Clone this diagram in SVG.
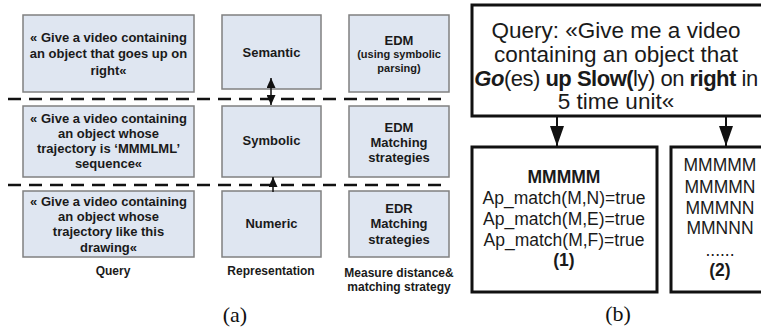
<svg xmlns="http://www.w3.org/2000/svg" width="761" height="331" viewBox="0 0 761 331">
<defs>
<style>
.ab{fill:#dfe6f1;stroke:#808080;stroke-width:1.5}
.bb{fill:#fff;stroke:#111;stroke-width:3}
.t{font-family:"Liberation Sans",Arial,sans-serif;font-weight:bold;fill:#1a1a1a;text-anchor:middle}
.s13{font-size:13px}
.s11{font-size:11px}
.s12{font-size:12px}
.bt{font-family:"Liberation Sans",Arial,sans-serif;fill:#1a1a1a;text-anchor:middle;font-size:22.5px}
.ct{font-family:"Liberation Sans",Arial,sans-serif;fill:#1a1a1a;text-anchor:middle;font-size:17.5px}
.cap{font-family:"Liberation Serif","Times New Roman",serif;font-size:22px;fill:#111;text-anchor:middle}
.dash{stroke:#111;stroke-width:2.5;stroke-dasharray:13 8;fill:none}
</style>
<marker id="ah" viewBox="0 0 10 10" refX="10" refY="5" markerWidth="10" markerHeight="9" markerUnits="userSpaceOnUse" orient="auto-start-reverse" preserveAspectRatio="none"><path d="M0,0 L10,5 L0,10 z" fill="#111"/></marker>
<marker id="ahb" viewBox="0 0 10 10" refX="10" refY="5" markerWidth="20" markerHeight="14" markerUnits="userSpaceOnUse" orient="auto" preserveAspectRatio="none"><path d="M0,0 L10,5 L0,10 z" fill="#111"/></marker>
</defs>

<g id="q1"><rect class="ab" x="23" y="15" width="171" height="77"/>
<text class="t s13" x="108.5" y="42">« Give a video containing</text>
<text class="t s13" x="108.5" y="58">an object that goes up on</text>
<text class="t s13" x="108.5" y="75">right«</text></g>
<g id="q2"><rect class="ab" x="23" y="106" width="171" height="71"/>
<text class="t s13" x="108.5" y="123">« Give a video containing</text>
<text class="t s13" x="108.5" y="138">an object whose</text>
<text class="t s13" x="108.5" y="153">trajectory is ‘MMMLML’</text>
<text class="t s13" x="108.5" y="168">sequence«</text></g>
<g id="q3"><rect class="ab" x="23" y="191" width="171" height="66"/>
<text class="t s13" x="108.5" y="206">« Give a video containing</text>
<text class="t s13" x="108.5" y="221">an object whose</text>
<text class="t s13" x="108.5" y="236">trajectory like this</text>
<text class="t s13" x="108.5" y="252">drawing«</text></g>

<g id="r1"><rect class="ab" x="222" y="15" width="99" height="74"/>
<text class="t s13" x="271.5" y="57">Semantic</text></g>
<g id="r2"><rect class="ab" x="222" y="106" width="99" height="71"/>
<text class="t s13" x="271.5" y="145">Symbolic</text></g>
<g id="r3"><rect class="ab" x="222" y="191" width="99" height="66"/>
<text class="t s13" x="271.5" y="228">Numeric</text></g>

<g id="m1"><rect class="ab" x="349" y="15" width="100" height="77"/>
<text class="t s13" x="399" y="45">EDM</text>
<text class="t s11" x="399" y="58">(using symbolic</text>
<text class="t s11" x="399" y="72">parsing)</text></g>
<g id="m2"><rect class="ab" x="349" y="106" width="100" height="71"/>
<text class="t s13" x="399" y="132">EDM</text>
<text class="t s13" x="399" y="147">Matching</text>
<text class="t s13" x="399" y="162">strategies</text></g>
<g id="m3"><rect class="ab" x="349" y="191" width="100" height="66"/>
<text class="t s13" x="399" y="213">EDR</text>
<text class="t s13" x="399" y="228">Matching</text>
<text class="t s13" x="399" y="244">strategies</text></g>

<g id="labels-a">
<text class="t s12" x="113" y="275">Query</text>
<text class="t s12" x="271" y="275">Representation</text>
<text class="t s12" x="399" y="277">Measure distance&amp;</text>
<text class="t s12" x="399" y="291">matching strategy</text>
<text class="cap" x="235" y="322">(a)</text>
</g>

<g id="dividers">
<line class="dash" x1="8" y1="99" x2="444" y2="99"/>
<line class="dash" x1="8" y1="185" x2="444" y2="185"/>
</g>

<g id="b-top"><rect class="bb" x="472" y="5" width="295" height="111"/>
<text class="bt" x="616" y="38">Query: «Give me a video</text>
<text class="bt" x="616" y="62">containing an object that</text>
<text class="bt" x="616" y="86" style="font-size:22px;letter-spacing:-0.5px"><tspan font-weight="bold" font-style="italic">Go</tspan>(es) <tspan font-weight="bold">up Slow(</tspan>ly) on <tspan font-weight="bold">right</tspan> in</text>
<text class="bt" x="616" y="109">5 time unit«</text></g>

<g id="b-1"><rect class="bb" x="472" y="147" width="185" height="145"/>
<text class="ct" x="564" y="183" font-weight="bold">MMMMM</text>
<text class="ct" x="564" y="204">Ap_match(M,N)=true</text>
<text class="ct" x="564" y="225">Ap_match(M,E)=true</text>
<text class="ct" x="564" y="246">Ap_match(M,F)=true</text>
<text class="ct" x="564" y="266" font-weight="bold">(1)</text></g>

<g id="b-2"><rect class="bb" x="671" y="147" width="96" height="145"/>
<text class="ct" x="720" y="171">MMMMM</text>
<text class="ct" x="720" y="193">MMMMN</text>
<text class="ct" x="720" y="214">MMMNN</text>
<text class="ct" x="720" y="234">MMNNN</text>
<text class="ct" x="720" y="256">......</text>
<text class="ct" x="720" y="276" font-weight="bold">(2)</text></g>

<text class="cap" x="618" y="321">(b)</text>

<g id="connectors">
<line x1="271" y1="78" x2="271" y2="105" stroke="#111" stroke-width="1.5" marker-start="url(#ah)" marker-end="url(#ah)"/>
<line x1="273" y1="192" x2="273" y2="177" stroke="#111" stroke-width="1.5" marker-end="url(#ah)"/>
<line x1="557" y1="117" x2="557" y2="146" stroke="#111" stroke-width="2" marker-end="url(#ahb)"/>
<line x1="726" y1="117" x2="726" y2="146" stroke="#111" stroke-width="2" marker-end="url(#ahb)"/>
</g>
</svg>
